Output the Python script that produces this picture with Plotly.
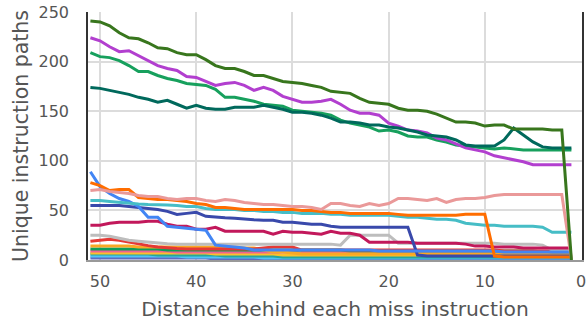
import plotly.graph_objects as go

distance = list(range(51, 0, -1))

olive = [241, 240, 236, 229, 224, 223, 219, 214, 213, 209, 207, 207, 202, 196, 193, 193, 190, 186, 186, 183,
         180, 179, 178, 176, 174, 170, 169, 168, 163, 159, 158, 157, 153, 151, 151, 150, 147, 143, 139, 139,
         138, 135, 136, 136, 132, 132, 132, 132, 131, 131, 0]
purple = [224, 221, 215, 210, 211, 206, 201, 196, 193, 191, 185, 184, 180, 176, 178, 179, 176, 171, 174, 171,
          165, 162, 159, 159, 160, 162, 157, 151, 148, 148, 146, 138, 135, 131, 130, 128, 123, 121, 117, 113,
          111, 109, 105, 103, 101, 99, 96, 96, 96, 96, 96]
green = [209, 205, 204, 201, 196, 190, 190, 186, 183, 181, 178, 177, 176, 172, 164, 164, 162, 160, 157, 156,
         155, 151, 150, 149, 148, 146, 141, 138, 136, 134, 130, 131, 129, 125, 124, 124, 121, 119, 116, 115,
         114, 113, 112, 113, 112, 111, 111, 111, 111, 111, 111]
teal = [174, 173, 171, 169, 167, 164, 162, 159, 161, 157, 153, 156, 153, 152, 152, 154, 154, 154, 156, 154,
        152, 149, 149, 148, 146, 143, 139, 139, 138, 136, 136, 134, 133, 131, 129, 126, 125, 124, 121, 116,
        115, 115, 115, 121, 133, 126, 119, 114, 113, 113, 113]
blue = [89, 74, 67, 62, 59, 54, 43, 43, 34, 33, 32, 31, 30, 15, 14, 13, 12, 10, 10, 10,
        10, 10, 10, 10, 10, 10, 10, 10, 10, 10, 9, 9, 9, 9, 9, 9, 9, 9, 9, 9,
        9, 9, 9, 8, 8, 8, 8, 8, 8, 8, 8]
orange = [78, 75, 70, 71, 71, 63, 62, 61, 61, 60, 59, 57, 56, 53, 53, 52, 51, 51, 51, 51,
          51, 51, 50, 50, 49, 48, 48, 47, 47, 47, 47, 47, 46, 45, 45, 45, 45, 45, 45, 46,
          46, 46, 4, 3, 3, 3, 3, 3, 3, 3, 3]
salmon = [70, 71, 69, 68, 67, 65, 64, 64, 62, 61, 62, 62, 60, 59, 61, 60, 58, 57, 56, 56,
          55, 54, 54, 53, 51, 57, 57, 55, 54, 57, 55, 57, 62, 62, 61, 60, 62, 58, 61, 62,
          62, 63, 65, 66, 66, 66, 66, 66, 66, 66, 1]
cyan = [60, 60, 59, 58, 57, 56.5, 56, 56, 55.5, 55, 54, 54, 52, 51, 51, 51, 50, 50, 49, 49,
        48, 48, 47, 47, 47, 46, 46, 45, 45, 45, 45, 45, 44, 43, 43, 42, 41, 41, 40, 37,
        36, 35, 35, 34, 34, 34, 34, 33, 28, 28, 28]
indigo = [55, 55, 55, 55, 54, 53, 52, 51, 49, 46, 47, 48, 44, 43, 42.5, 42, 41, 40.5, 40, 40,
          38, 38, 37, 36, 36, 34, 33, 33, 33, 33, 33, 33, 33, 33, 5, 4, 4, 4, 4, 4,
          4, 4, 4, 4, 4, 4, 4, 4, 4, 4, 4]
crimson = [35, 35, 37, 38, 38, 38, 39, 39, 36, 34, 34, 31, 31, 33, 29, 29, 29, 29, 29, 26,
           29, 28, 28, 27, 26, 29, 27, 27, 25, 18, 18, 18, 18, 18, 17, 17, 17, 17, 17, 16,
           14, 14, 13, 13, 13, 12, 12, 12, 12, 12, 12]
gray = [25, 25, 24, 22, 20, 19, 18, 17, 16.5, 16, 16, 16, 16, 16, 16, 16, 16, 16, 16, 16,
        16, 16, 16, 16, 16, 16, 15, 25, 25, 25, 25, 25, 17, 17, 17, 17, 17, 17, 17, 17,
        17, 17, 17, 16, 16, 16, 16, 15, 10, 10, 10]
red = [19, 20, 21, 20, 18, 16, 14.5, 13, 12, 11.5, 11, 11, 11, 11, 11, 11, 11, 11, 12, 13,
       13, 13, 10, 10, 10, 10, 10, 10, 10, 10, 10, 10, 10, 10, 10, 10, 10, 10, 10, 10,
       10, 10, 10, 9, 9, 9, 9, 9, 9, 9, 9]
amber = [14, 14, 14, 14, 14, 13, 13, 13, 13, 13, 13, 13, 13, 13, 13, 13, 12, 12, 10, 8,
         8, 7, 6, 6, 6, 6, 6, 6, 6, 6, 6, 6, 6, 6, 6, 6, 6, 6, 6, 6,
         6, 6, 6, 6, 6, 6, 6, 6, 5, 5, 5]
green_low = [11, 11, 11, 11, 11, 11, 11, 11, 10, 10, 10, 10, 10, 10, 10, 10, 10, 10, 10, 10,
             10, 10, 10, 10, 10, 10, 10, 9, 9, 9, 9, 9, 9, 9, 9, 9, 9, 9, 9, 9,
             9, 9, 9, 9, 9, 9, 9, 8, 8, 8, 8]
pink_low = [9, 9, 9, 9, 9, 9, 9, 9, 9, 8, 8, 8, 8, 8, 8, 8, 8, 8, 8, 8,
            8, 8, 7, 7, 7, 7, 7, 7, 7, 7, 7, 7, 7, 7, 7, 7, 7, 7, 7, 7,
            7, 7, 7, 7, 7, 7, 7, 7, 7, 7, 7]
yellow_low = [7, 7, 7, 7, 7, 7, 7, 7, 7, 7, 7, 7, 7, 6, 6, 6, 6, 6, 6, 6,
              5, 5, 5, 5, 5, 5, 5, 5, 5, 5, 5, 5, 5, 5, 5, 5, 5, 5, 5, 5,
              5, 5, 5, 5, 5, 5, 5, 5, 4, 4, 4]
teal_low = [6, 6, 6, 6, 6, 6, 6, 5, 5, 5, 5, 5, 5, 5, 4, 4, 4, 4, 4, 4,
            3, 3, 3, 3, 3, 3, 3, 3, 3, 3, 3, 3, 3, 3, 3, 3, 3, 3, 3, 3,
            3, 3, 3, 3, 3, 3, 3, 3, 3, 3, 3]
cyan_low = [4, 4, 4, 4, 4, 4, 4, 4, 4, 4, 3, 3, 3, 3, 3, 3, 3, 3, 2, 2,
            2, 2, 2, 2, 2, 2, 2, 2, 2, 2, 2, 2, 2, 2, 2, 2, 2, 2, 2, 2,
            2, 2, 2, 2, 2, 2, 2, 2, 2, 2, 2]
violet_low = [2, 2, 2, 2, 2, 2, 2, 2, 2, 2, 2, 2, 2, 1, 1, 1, 1, 1, 1, 1,
              1, 1, 1, 1, 1, 1, 1, 1, 1, 1, 1, 1, 1, 1, 1, 1, 1, 1, 1, 1,
              1, 1, 1, 1, 1, 1, 1, 1, 1, 1, 1]

series = [
    ("violet_low", violet_low, "#5c6bc0"),
    ("cyan_low", cyan_low, "#4fc3f7"),
    ("teal_low", teal_low, "#26a69a"),
    ("yellow_low", yellow_low, "#fbc02d"),
    ("pink_low", pink_low, "#f06292"),
    ("green_low", green_low, "#0f9d58"),
    ("amber", amber, "#f9a825"),
    ("red", red, "#e53935"),
    ("gray", gray, "#bdbdbd"),
    ("crimson", crimson, "#c2185b"),
    ("indigo", indigo, "#3949ab"),
    ("blue", blue, "#4285f4"),
    ("cyan", cyan, "#46bdc6"),
    ("orange", orange, "#ff6d00"),
    ("salmon", salmon, "#ea9999"),
    ("green", green, "#17a05d"),
    ("purple", purple, "#b23fcf"),
    ("teal", teal, "#00695c"),
    ("olive", olive, "#38761d"),
]

fig = go.Figure()
for name, vals, color in series:
    fig.add_trace(go.Scatter(x=distance, y=vals, mode="lines", name=name,
                             line=dict(color=color, width=3), showlegend=False))

font_family = "DejaVu Sans"
text_color = "#555555"
fig.update_layout(
    width=586, height=324,
    margin=dict(l=88, r=4, t=12, b=64, autoexpand=False),
    plot_bgcolor="white", paper_bgcolor="white",
    font=dict(family=font_family, color=text_color, size=16),
)
fig.update_xaxes(
    range=[51.25, -0.1], tickvals=[50, 40, 30, 20, 10, 0],
    showgrid=True, gridcolor="#dcdcdc", gridwidth=1.5,
    zeroline=False, showline=True, linecolor="#999999", linewidth=1.5,
    ticks="", tickfont=dict(size=16, color=text_color), ticklabelstandoff=6,
    ticklabeloverflow="allow", automargin=False,
    title=dict(text="Distance behind each miss instruction", font=dict(size=20.3, color=text_color), standoff=12),
)
fig.update_yaxes(
    range=[0, 250], tickvals=[0, 50, 100, 150, 200, 250],
    showgrid=True, gridcolor="#dcdcdc", gridwidth=1.5,
    zeroline=False, showline=True, mirror=True, linecolor="#333333", linewidth=1.5,
    ticks="", tickfont=dict(size=16, color=text_color), ticklabelstandoff=14,
    ticklabeloverflow="allow", automargin=False,
    title=dict(text="Unique instruction paths", font=dict(size=20.5, color=text_color), standoff=4),
)

fig.write_html("out.html", config={"displayModeBar": False},
               post_script="document.body.style.margin='0';")
